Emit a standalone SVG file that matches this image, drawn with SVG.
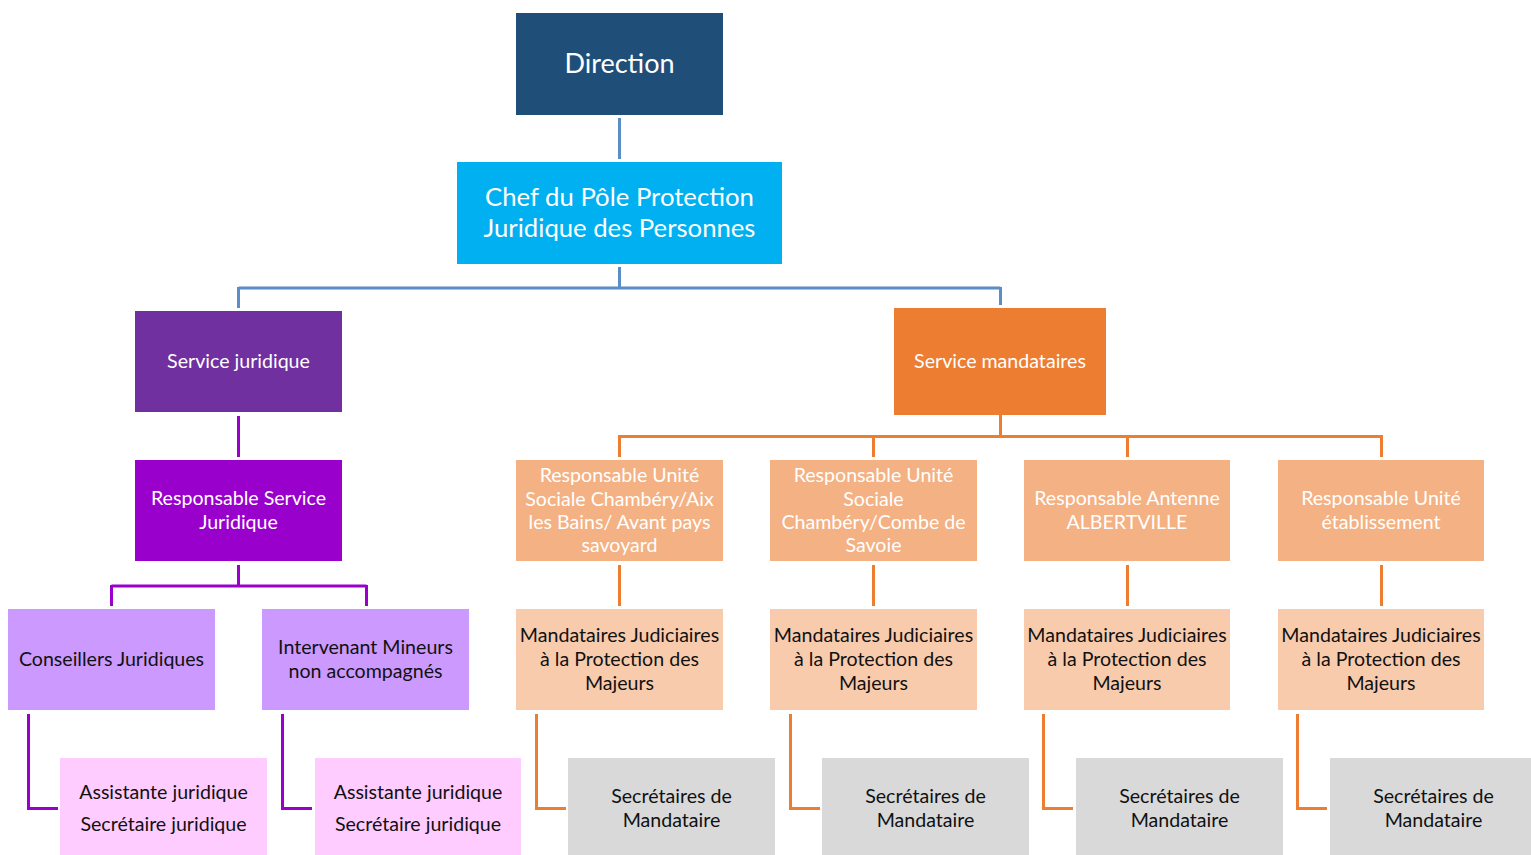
<svg xmlns="http://www.w3.org/2000/svg" width="1531" height="855" viewBox="0 0 1531 855">
<style>
text{font-family:Lato,"Open Sans","Liberation Sans",sans-serif;text-anchor:middle;}
.w{fill:#fff;}
.k{fill:#111;}
.t18{font-size:19.6px;}
.c{fill:none;stroke-width:3;}
.blue{stroke:#5B8EC6;}
.pur{stroke:#9900CC;}
.org{stroke:#ED7D31;}
</style>
<rect width="1531" height="855" fill="#fff"/>
<g id="connectors">
<path class="c blue" d="M619.5 118V159M619.5 267V288M238.5 288H1000.5M238.5 287V308M1000.5 287V305"/>
<path class="c pur" d="M238.5 416V457M238.5 565V586M111.5 586H366.5M111.5 585V606M366.5 585V606M28.5 714V808.5H58M282.5 714V808.5H312"/>
<path class="c org" d="M1000.5 415V436.5M619.5 436.5H1381.5M619.5 435V457M873.5 435V457M1127.5 435V457M1381.5 435V457M619.5 565V606M873.5 565V606M1127.5 565V606M1381.5 565V606M536.5 714V808.5H566M790.5 714V808.5H820M1043.5 714V808.5H1073M1297.5 714V808.5H1327"/>
</g>
<g id="direction"><rect x="516" y="13" width="207" height="102" fill="#1F4E79"/><text class="w" x="619.5" y="73" font-size="27">Direction</text></g>
<g id="chef"><rect x="457" y="162" width="325" height="102" fill="#00B0F0"/><text class="w" x="619.5" y="206" font-size="25.7">Chef du Pôle Protection</text><text class="w" x="619.5" y="237" font-size="25.7">Juridique des Personnes</text></g>
<g id="service-juridique"><rect x="135" y="311" width="207" height="101" fill="#7030A0"/><text class="w t18" x="238.5" y="368">Service juridique</text></g>
<g id="resp-juridique"><rect x="135" y="460" width="207" height="101" fill="#9900CC"/><text class="w t18" x="238.5" y="505">Responsable Service</text><text class="w t18" x="238.5" y="529">Juridique</text></g>
<g id="conseillers"><rect x="8" y="609" width="207" height="101" fill="#CC99FF"/><text class="k t18" x="111.5" y="666">Conseillers Juridiques</text></g>
<g id="intervenant"><rect x="262" y="609" width="207" height="101" fill="#CC99FF"/><text class="k t18" x="365.5" y="654">Intervenant Mineurs</text><text class="k t18" x="365.5" y="678">non accompagnés</text></g>
<g id="assistante1"><rect x="60" y="758" width="207" height="97" fill="#FFCCFF"/><text class="k t18" x="163.5" y="799">Assistante juridique</text><text class="k t18" x="163.5" y="831">Secrétaire juridique</text></g>
<g id="assistante2"><rect x="315" y="758" width="206" height="97" fill="#FFCCFF"/><text class="k t18" x="418" y="799">Assistante juridique</text><text class="k t18" x="418" y="831">Secrétaire juridique</text></g>
<g id="service-mandataires"><rect x="894" y="308" width="212" height="107" fill="#ED7D31"/><text class="w t18" x="1000" y="368">Service mandataires</text></g>
<g id="resp-chambery-aix"><rect x="516" y="460" width="207" height="101" fill="#F4B183"/><text class="w t18" x="619.5" y="482">Responsable Unité</text><text class="w t18" x="619.5" y="506">Sociale Chambéry/Aix</text><text class="w t18" x="619.5" y="529">les Bains/ Avant pays</text><text class="w t18" x="619.5" y="552">savoyard</text></g>
<g id="resp-chambery-combe"><rect x="770" y="460" width="207" height="101" fill="#F4B183"/><text class="w t18" x="873.5" y="482">Responsable Unité</text><text class="w t18" x="873.5" y="506">Sociale</text><text class="w t18" x="873.5" y="529">Chambéry/Combe de</text><text class="w t18" x="873.5" y="552">Savoie</text></g>
<g id="resp-albertville"><rect x="1024" y="460" width="206" height="101" fill="#F4B183"/><text class="w t18" x="1127" y="505">Responsable Antenne</text><text class="w t18" x="1127" y="529">ALBERTVILLE</text></g>
<g id="resp-etablissement"><rect x="1278" y="460" width="206" height="101" fill="#F4B183"/><text class="w t18" x="1381" y="505">Responsable Unité</text><text class="w t18" x="1381" y="529">établissement</text></g>
<g id="mand1"><rect x="516" y="609" width="207" height="101" fill="#F8CBAD"/><text class="k t18" x="619.5" y="642">Mandataires Judiciaires</text><text class="k t18" x="619.5" y="666">à la Protection des</text><text class="k t18" x="619.5" y="690">Majeurs</text></g>
<g id="mand2"><rect x="770" y="609" width="207" height="101" fill="#F8CBAD"/><text class="k t18" x="873.5" y="642">Mandataires Judiciaires</text><text class="k t18" x="873.5" y="666">à la Protection des</text><text class="k t18" x="873.5" y="690">Majeurs</text></g>
<g id="mand3"><rect x="1024" y="609" width="206" height="101" fill="#F8CBAD"/><text class="k t18" x="1127" y="642">Mandataires Judiciaires</text><text class="k t18" x="1127" y="666">à la Protection des</text><text class="k t18" x="1127" y="690">Majeurs</text></g>
<g id="mand4"><rect x="1278" y="609" width="206" height="101" fill="#F8CBAD"/><text class="k t18" x="1381" y="642">Mandataires Judiciaires</text><text class="k t18" x="1381" y="666">à la Protection des</text><text class="k t18" x="1381" y="690">Majeurs</text></g>
<g id="sec1"><rect x="568" y="758" width="207" height="97" fill="#D9D9D9"/><text class="k t18" x="671.5" y="803">Secrétaires de</text><text class="k t18" x="671.5" y="827">Mandataire</text></g>
<g id="sec2"><rect x="822" y="758" width="207" height="97" fill="#D9D9D9"/><text class="k t18" x="925.5" y="803">Secrétaires de</text><text class="k t18" x="925.5" y="827">Mandataire</text></g>
<g id="sec3"><rect x="1076" y="758" width="207" height="97" fill="#D9D9D9"/><text class="k t18" x="1179.5" y="803">Secrétaires de</text><text class="k t18" x="1179.5" y="827">Mandataire</text></g>
<g id="sec4"><rect x="1330" y="758" width="201" height="97" fill="#D9D9D9"/><text class="k t18" x="1433.5" y="803">Secrétaires de</text><text class="k t18" x="1433.5" y="827">Mandataire</text></g>
</svg>
